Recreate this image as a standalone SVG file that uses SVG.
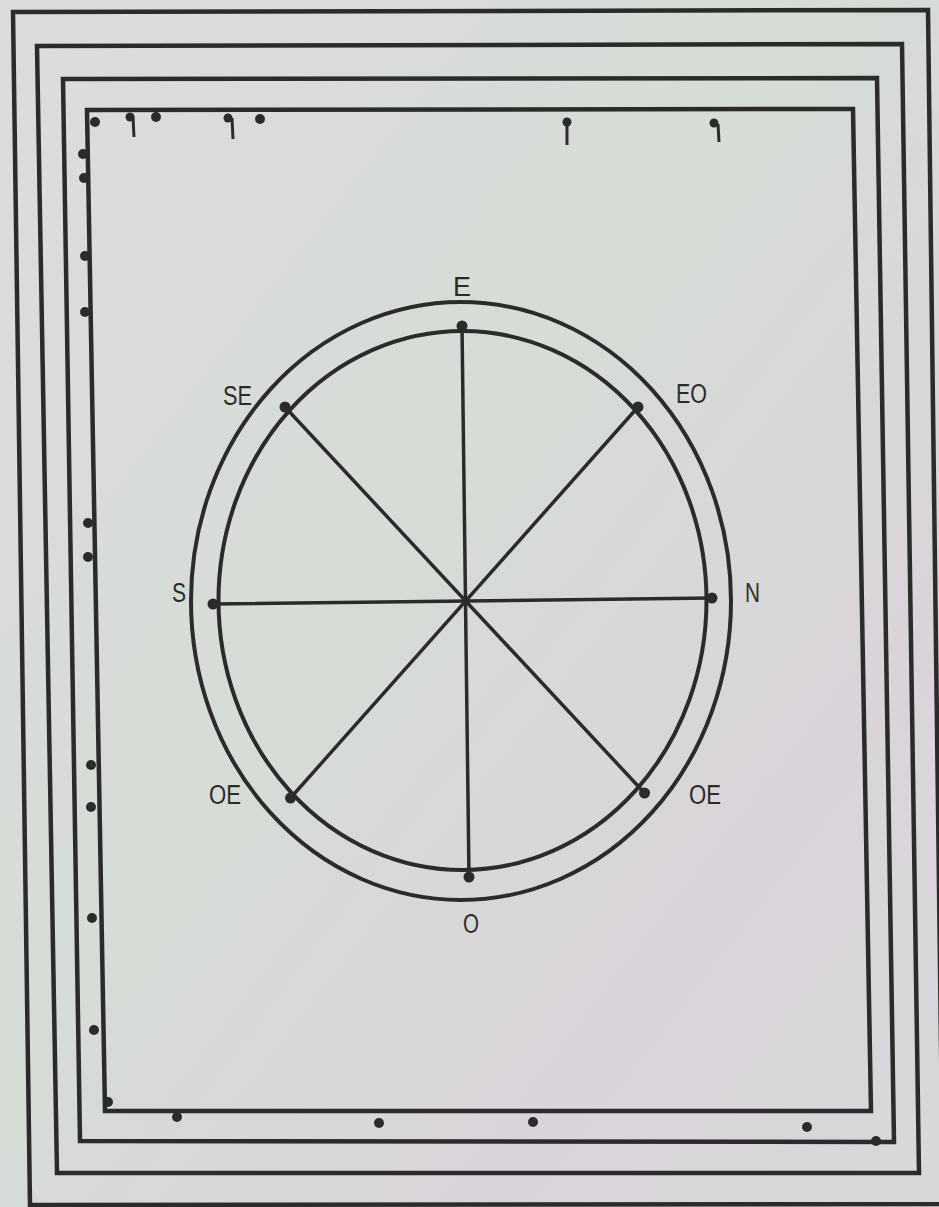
<svg xmlns="http://www.w3.org/2000/svg" width="939" height="1207" viewBox="0 0 939 1207">
<defs>
<linearGradient id="bg" x1="0" y1="0" x2="1" y2="1">
<stop offset="0" stop-color="#dcdcdc"/>
<stop offset="0.45" stop-color="#d6dcd6"/>
<stop offset="0.75" stop-color="#dad4da"/>
<stop offset="1" stop-color="#d8d8da"/>
</linearGradient>
<style>
.frame{fill:none;stroke:#2b2b2b;stroke-width:4.5;stroke-linejoin:miter}
.ring{fill:none;stroke:#2b2b2b;stroke-width:4}
.spoke{stroke:#2b2b2b;stroke-width:3.5;stroke-linecap:round}
.dot{fill:#2b2b2b}
.pin{stroke:#2b2b2b;stroke-width:3}
.lbl{font-family:"Liberation Sans",Arial,sans-serif;font-size:27px;fill:#2b2b2b}
</style>
</defs>
<rect x="0" y="0" width="939" height="1207" fill="url(#bg)"/>
<g id="frames">
<polygon class="frame" points="13,12 928,10 943,1204 30,1205"/>
<polygon class="frame" points="37,46 902,44 919,1173 57,1173"/>
<polygon class="frame" points="63,79 877,78 894,1142 80,1141"/>
<polygon class="frame" points="87,110 853,109 871,1111 105,1111"/>
</g>
<g id="frame-marks">
<circle class="dot" cx="95" cy="122" r="5"/>
<circle class="dot" cx="130" cy="117" r="4.5"/><line class="pin" x1="133" y1="117" x2="134" y2="137"/>
<circle class="dot" cx="156" cy="117" r="5"/>
<circle class="dot" cx="228" cy="118" r="4.5"/><line class="pin" x1="232" y1="118" x2="233" y2="139"/>
<circle class="dot" cx="260" cy="119" r="5"/>
<circle class="dot" cx="567" cy="122" r="4.5"/><line class="pin" x1="567" y1="122" x2="567" y2="145"/>
<circle class="dot" cx="714" cy="123" r="4.5"/><line class="pin" x1="718" y1="124" x2="719" y2="142"/>
<circle class="dot" cx="83" cy="154" r="5"/>
<circle class="dot" cx="84" cy="178" r="5"/>
<circle class="dot" cx="85" cy="256" r="5"/>
<circle class="dot" cx="85" cy="312" r="5"/>
<circle class="dot" cx="88" cy="523" r="5"/>
<circle class="dot" cx="88" cy="557" r="5"/>
<circle class="dot" cx="91" cy="765" r="5"/>
<circle class="dot" cx="91" cy="807" r="5"/>
<circle class="dot" cx="92" cy="918" r="5"/>
<circle class="dot" cx="94" cy="1030" r="5"/>
<circle class="dot" cx="108" cy="1102" r="5"/>
<circle class="dot" cx="177" cy="1117" r="5"/>
<circle class="dot" cx="379" cy="1123" r="5"/>
<circle class="dot" cx="533" cy="1122" r="5"/>
<circle class="dot" cx="807" cy="1127" r="5"/>
<circle class="dot" cx="876" cy="1141" r="5"/>
</g>
<g id="rings">
<ellipse class="ring" cx="461" cy="601" rx="270" ry="299"/>
<ellipse class="ring" cx="462.5" cy="600.5" rx="244" ry="269.5"/>
</g>
<g id="connectors">
<line class="spoke" x1="462" y1="326" x2="469" y2="877"/>
<line class="spoke" x1="213" y1="604" x2="712" y2="598"/>
<line class="spoke" x1="285" y1="407" x2="644.5" y2="793"/>
<line class="spoke" x1="638" y1="407" x2="290.5" y2="798"/>
</g>
<g id="node-E"><circle class="dot" cx="462" cy="326" r="5.5"/><text class="lbl" x="453" y="296" textLength="18" lengthAdjust="spacingAndGlyphs">E</text></g>
<g id="node-SE"><circle class="dot" cx="285" cy="407" r="5.5"/><text class="lbl" x="223" y="405" textLength="29" lengthAdjust="spacingAndGlyphs">SE</text></g>
<g id="node-EO"><circle class="dot" cx="638" cy="407" r="5.5"/><text class="lbl" x="676" y="403" textLength="31" lengthAdjust="spacingAndGlyphs">EO</text></g>
<g id="node-S"><circle class="dot" cx="213" cy="604" r="5.5"/><text class="lbl" x="172" y="602" textLength="14" lengthAdjust="spacingAndGlyphs">S</text></g>
<g id="node-N"><circle class="dot" cx="712" cy="598" r="5.5"/><text class="lbl" x="745" y="602" textLength="15" lengthAdjust="spacingAndGlyphs">N</text></g>
<g id="node-OE-left"><circle class="dot" cx="290.5" cy="798" r="5.5"/><text class="lbl" x="209" y="804" textLength="32" lengthAdjust="spacingAndGlyphs">OE</text></g>
<g id="node-OE-right"><circle class="dot" cx="644.5" cy="793" r="5.5"/><text class="lbl" x="689" y="804" textLength="32" lengthAdjust="spacingAndGlyphs">OE</text></g>
<g id="node-O"><circle class="dot" cx="469" cy="877" r="5.5"/><text class="lbl" x="463" y="933" textLength="16" lengthAdjust="spacingAndGlyphs">O</text></g>
</svg>
